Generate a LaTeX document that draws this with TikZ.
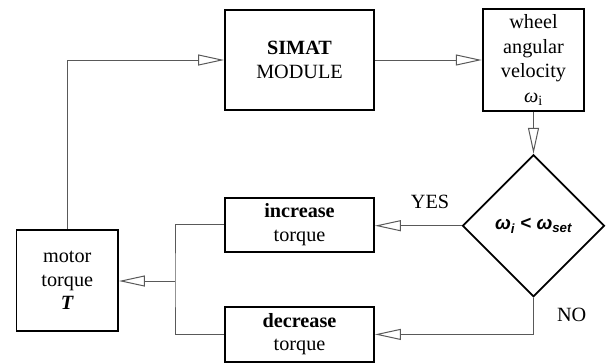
\documentclass[tikz,border=0pt]{standalone}
\usepackage{fontspec}
\setmainfont{Liberation Serif}
\setsansfont{Liberation Sans}
\usetikzlibrary{arrows.meta,shapes.geometric}
\begin{document}
\begin{tikzpicture}[x=1bp,y=-1bp,
  box/.style={draw=black,line width=1.8bp,align=center,inner sep=0pt,
    font=\fontsize{20.3}{23.5}\selectfont},
  cond/.style={diamond,draw=black,line width=1.8bp,inner sep=0pt,
    minimum width=142bp,minimum height=142bp,aspect=1},
  conn/.style={draw=black!65,line width=1bp},
  arr/.style={conn,-{Triangle[open,length=26bp,width=11bp,line width=1bp]}},
  lbl/.style={font=\fontsize{20.3}{23.5}\selectfont}]
\useasboundingbox (0,0) rectangle (606,363);
\node[box,minimum width=149bp,minimum height=100bp] (simat) at (299.5,60)
  {\textbf{SIMAT}\\MODULE};
\node[box,minimum width=101.6bp,minimum height=101.4bp,
  font=\fontsize{20.3}{24.8}\selectfont] (wheel) at (533.5,60)
  {wheel\\angular\\velocity\\\textit{ω}\textsubscript{i}};
\node[cond] (dec) at (533.5,225.7)
  {\fontsize{19}{22}\selectfont\sffamily\bfseries\itshape ω\textsubscript{i} < ω\textsubscript{set}};
\node[box,minimum width=149bp,minimum height=54bp] (inc) at (299.5,224.7)
  {\textbf{increase}\\torque};
\node[box,minimum width=149bp,minimum height=54.7bp] (decr) at (299.5,334.4)
  {\textbf{decrease}\\torque};
\node[box,minimum width=101.4bp,minimum height=101bp] (motor) at (67.3,280.5)
  {motor\\torque\\\textbf{\textit{T}}};
\coordinate (j) at (175,281);
\node[lbl] (yes) at (430,201.7) {YES};
\node[lbl] (no) at (571.7,315) {NO};
\draw[arr] (motor.north) |- (simat.west);
\draw[arr] (simat.east) -- (wheel.west);
\draw[arr] (wheel.south) -- (dec.north);
\draw[arr] (dec.west) -- (dec.west -| inc.east);
\draw[arr] (dec.south) |- (decr.east);
\draw[conn] (inc.west) -| (j) |- (decr.west);
\draw[arr] (j) -- (j -| motor.east);
\end{tikzpicture}
\end{document}
